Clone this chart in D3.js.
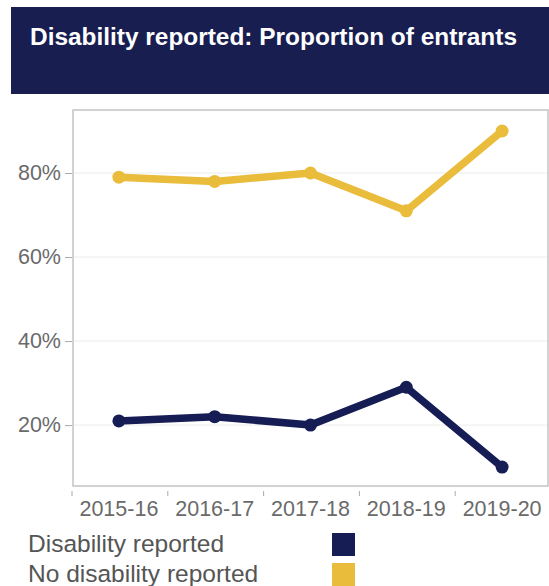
<!DOCTYPE html>
<html>
<head>
<meta charset="utf-8">
<script src="https://cdn.jsdelivr.net/npm/d3@7"></script>
<style>
  html, body { margin: 0; padding: 0; background: #fff; }
  svg { display: block; font-family: "Liberation Sans", Arial, sans-serif; }
</style>
</head>
<body>
<svg id="chart" width="549" height="586"></svg>
<script>
const title = "Disability reported: Proportion of entrants";
const categories = ["2015-16", "2016-17", "2017-18", "2018-19", "2019-20"];
const seriesNames = ["Disability reported", "No disability reported"];
const disabilityReported = [21, 22, 20, 29, 10];
const noDisabilityReported = [79, 78, 80, 71, 90];
const yTicks = [20, 40, 60, 80];
const colors = ["#161c54", "#e9bc3b"];

const series = [
  { name: seriesNames[0], values: disabilityReported, color: colors[0] },
  { name: seriesNames[1], values: noDisabilityReported, color: colors[1] }
];

const svg = d3.select("#chart");

// Header
svg.append("rect").attr("x", 11).attr("y", 7).attr("width", 560).attr("height", 87).attr("fill", "#181e50");
svg.append("text").attr("x", 30).attr("y", 45).attr("fill", "#fff")
  .attr("font-weight", "bold").attr("font-size", 23.5)
  .attr("textLength", 487).attr("lengthAdjust", "spacingAndGlyphs").text(title);

// Plot frame geometry
const plotLeft = 73, plotRight = 548, plotTop = 110, plotBottom = 486;

const x = d3.scaleBand().domain(categories).range([71, 550]).padding(0);
const y = d3.scaleLinear().domain([5.5, 95]).range([plotBottom, plotTop]);

// Gridlines
svg.append("g").selectAll("line").data(yTicks).join("line")
  .attr("x1", plotLeft).attr("x2", plotRight)
  .attr("y1", d => y(d)).attr("y2", d => y(d))
  .attr("stroke", "#ececec").attr("stroke-width", 1);

// Frame
svg.append("rect").attr("x", plotLeft).attr("y", plotTop)
  .attr("width", plotRight - plotLeft).attr("height", plotBottom - plotTop)
  .attr("fill", "none").attr("stroke", "#c4c4c4").attr("stroke-width", 1.5);

// Y axis
const yAxis = d3.axisLeft(y).tickValues(yTicks).tickFormat(d => d + "%").tickSize(7).tickPadding(4);
const gy = svg.append("g").attr("transform", `translate(${plotLeft - 1},0)`).call(yAxis);
gy.select(".domain").remove();
gy.selectAll(".tick line").attr("stroke", "#aaa");
gy.selectAll(".tick text").attr("fill", "#6a6a6a").attr("font-size", 21.5)
  .attr("font-family", "'Liberation Sans', Arial, sans-serif");

// X axis: ticks at band starts, labels at band centers
const gx = svg.append("g");
gx.selectAll("line").data(categories).join("line")
  .attr("x1", d => x(d) + 1).attr("x2", d => x(d) + 1)
  .attr("y1", 491).attr("y2", 496).attr("stroke", "#aaa");
gx.selectAll("text").data(categories).join("text")
  .attr("x", d => x(d) + x.bandwidth() / 2).attr("y", 516)
  .attr("text-anchor", "middle").attr("fill", "#6a6a6a").attr("font-size", 21.5)
  .text(d => d);

// Lines and points
const line = d3.line()
  .x((d, i) => x(categories[i]) + x.bandwidth() / 2)
  .y(d => y(d));

const gs = svg.append("g").selectAll("g").data(series).join("g");
gs.append("path").attr("d", d => line(d.values))
  .attr("fill", "none").attr("stroke", d => d.color)
  .attr("stroke-width", 7.5).attr("stroke-linejoin", "round").attr("stroke-linecap", "round");
gs.each(function(s) {
  d3.select(this).selectAll("circle").data(s.values).join("circle")
    .attr("cx", (d, i) => x(categories[i]) + x.bandwidth() / 2)
    .attr("cy", d => y(d)).attr("r", 6.5).attr("fill", s.color);
});

// Legend
const lg = svg.append("g").selectAll("g").data(series).join("g")
  .attr("transform", (d, i) => `translate(0,${i * 30})`);
lg.append("text").attr("x", 28).attr("y", 552).attr("fill", "#555")
  .attr("font-size", 24.5).text(d => d.name);
lg.append("rect").attr("x", 332).attr("y", 533).attr("width", 23).attr("height", 23)
  .attr("fill", d => d.color);
</script>
</body>
</html>
